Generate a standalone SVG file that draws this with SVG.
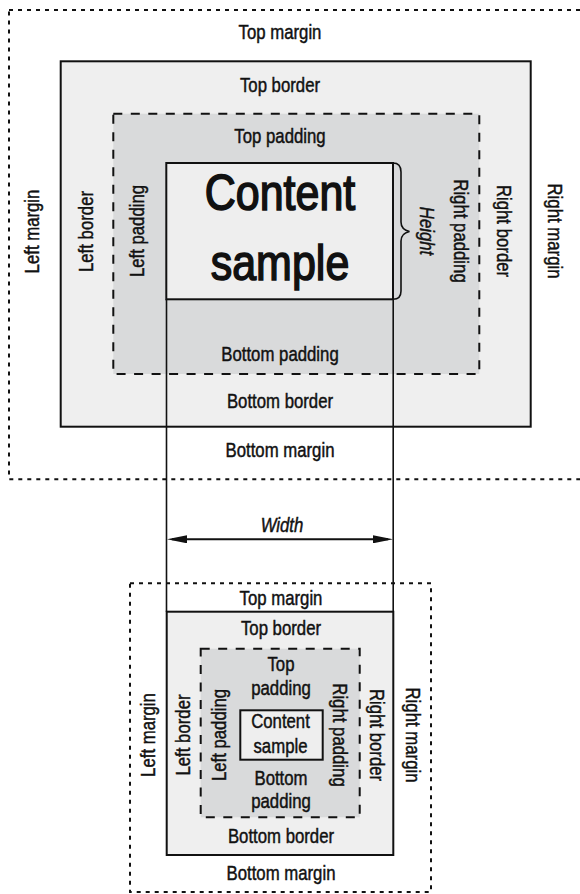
<svg xmlns="http://www.w3.org/2000/svg" width="580" height="894" viewBox="0 0 580 894">
<style>
.margin{fill:none;stroke:#111;stroke-width:2;stroke-dasharray:4 5}
.border{fill:#efefef;stroke:#111;stroke-width:2}
.padding{fill:#d9dadb;stroke:#111;stroke-width:2;stroke-dasharray:9 8.5}
.content{fill:#eeeeee;stroke:#111;stroke-width:2}
.conn{fill:none;stroke:#111;stroke-width:1.6}
.lbl{font-family:"Liberation Sans",Arial,sans-serif;font-size:19.5px;text-anchor:middle;fill:#111;stroke:#111;stroke-width:0.45}
.it{font-style:italic}
.big{font-size:50px;stroke-width:1.6}
</style>
<defs>
<marker id="ah" viewBox="0 0 20 8" refX="15" refY="4" markerWidth="20" markerHeight="8" markerUnits="userSpaceOnUse" orient="auto-start-reverse">
<path d="M0,0 L20,4 L0,8 z" fill="#111"/>
</marker>
</defs>
<!-- Large box model -->
<g id="large-margin">
<rect class="margin" x="9" y="10" width="600" height="469.3"/>
<text class="lbl" transform="translate(280,39.3) scale(0.86,1)">Top margin</text>
<text class="lbl" transform="translate(280,457.3) scale(0.86,1)">Bottom margin</text>
<text class="lbl" transform="translate(39.3,231.5) rotate(-90) scale(0.86,1)">Left margin</text>
<text class="lbl" transform="translate(548.3,231) rotate(90) scale(0.86,1)">Right margin</text>
</g>
<g id="large-border">
<rect class="border" x="60.7" y="61.3" width="470" height="365.4"/>
<text class="lbl" transform="translate(280,91.7) scale(0.86,1)">Top border</text>
<text class="lbl" transform="translate(280,408.3) scale(0.86,1)">Bottom border</text>
<text class="lbl" transform="translate(92.7,231.5) rotate(-90) scale(0.86,1)">Left border</text>
<text class="lbl" transform="translate(496.7,231) rotate(90) scale(0.86,1)">Right border</text>
</g>
<g id="large-padding">
<rect class="padding" x="113.3" y="113.7" width="366" height="260.3"/>
<text class="lbl" transform="translate(280,143.3) scale(0.86,1)">Top padding</text>
<text class="lbl" transform="translate(280,360.7) scale(0.86,1)">Bottom padding</text>
<text class="lbl" transform="translate(144,231) rotate(-90) scale(0.86,1)">Left padding</text>
<text class="lbl" transform="translate(454.3,231) rotate(90) scale(0.86,1)">Right padding</text>
</g>
<g id="large-content">
<rect class="content" x="166.3" y="163" width="226.7" height="136.3"/>
<text class="lbl big" transform="translate(280,209.5) scale(0.86,1)">Content</text>
<text class="lbl big" transform="translate(280,280) scale(0.86,1)">sample</text>
</g>
<!-- Small box model -->
<g id="small-margin">
<rect class="margin" x="130" y="583.3" width="301" height="308.7"/>
<text class="lbl" transform="translate(281,605) scale(0.86,1)">Top margin</text>
<text class="lbl" transform="translate(281,880) scale(0.86,1)">Bottom margin</text>
<text class="lbl" transform="translate(155,735) rotate(-90) scale(0.86,1)">Left margin</text>
<text class="lbl" transform="translate(406,735) rotate(90) scale(0.86,1)">Right margin</text>
</g>
<g id="small-border">
<rect class="border" x="166.7" y="611.7" width="226.6" height="243.3"/>
<text class="lbl" transform="translate(281,635) scale(0.86,1)">Top border</text>
<text class="lbl" transform="translate(281,843.3) scale(0.86,1)">Bottom border</text>
<text class="lbl" transform="translate(190,735) rotate(-90) scale(0.86,1)">Left border</text>
<text class="lbl" transform="translate(370,735) rotate(90) scale(0.86,1)">Right border</text>
</g>
<g id="small-padding">
<rect class="padding" x="200.7" y="648.7" width="159" height="168.6"/>
<text class="lbl" transform="translate(281,671) scale(0.86,1)">Top</text>
<text class="lbl" transform="translate(281,695) scale(0.86,1)">padding</text>
<text class="lbl" transform="translate(281,785) scale(0.86,1)">Bottom</text>
<text class="lbl" transform="translate(281,808.3) scale(0.86,1)">padding</text>
<text class="lbl" transform="translate(226,735) rotate(-90) scale(0.86,1)">Left padding</text>
<text class="lbl" transform="translate(332.7,735) rotate(90) scale(0.86,1)">Right padding</text>
</g>
<g id="small-content">
<rect class="content" x="240.3" y="710.3" width="82.4" height="49.4"/>
<text class="lbl" transform="translate(280.5,728.3) scale(0.86,1)">Content</text>
<text class="lbl" transform="translate(280.5,753.3) scale(0.86,1)">sample</text>
</g>
<!-- Connectors -->
<g id="connectors">
<line class="conn" x1="166.5" y1="299.3" x2="166.5" y2="611.7"/>
<line class="conn" x1="393.2" y1="299.3" x2="393.2" y2="611.7"/>
<path class="conn" d="M393,163 Q401,163 401,172 L401,222 Q401,229.5 409.5,231.5 Q401,233.5 401,241 L401,291 Q401,299.3 393,299.3"/>
<line x1="172" y1="539.3" x2="388" y2="539.3" stroke="#111" stroke-width="2" marker-start="url(#ah)" marker-end="url(#ah)"/>
<text class="lbl it" transform="translate(282,531.7) scale(0.86,1)">Width</text>
<text class="lbl it" transform="translate(420,231) rotate(90) scale(0.86,1)">Height</text>
</g>
</svg>
